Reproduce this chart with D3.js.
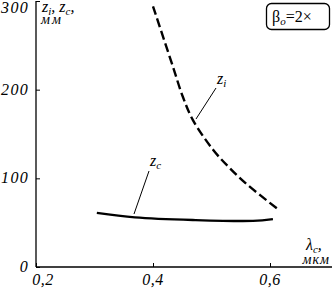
<!DOCTYPE html>
<html>
<head>
<meta charset="utf-8">
<script src="https://cdn.jsdelivr.net/npm/d3@7"></script>
<style>
  body { margin: 0; background: #fff; }
  text { font-family: "Liberation Serif", "DejaVu Serif", serif; fill: #000; }
</style>
</head>
<body>
<svg id="chart" width="332" height="291"></svg>
<script>
// values
const xTicks = [0.2, 0.4, 0.6]
const yTicks = [0, 100, 200, 300]
const xTickLabels = ['0,2', '0,4', '0,6']

const lambdaI = [0.400, 0.434, 0.451, 0.468, 0.503, 0.532, 0.561, 0.612]
const zI = [294, 226, 192, 166, 132, 111, 93, 66]

const lambdaC = [0.304, 0.369, 0.468, 0.571, 0.605]
const zC = [61, 56, 53, 52, 54]

const svg = d3.select('#chart')

const x = d3.scaleLinear().domain([0.2, 0.7]).range([36, 328.5])
const y = d3.scaleLinear().domain([0, 300]).range([267, 1])

// axes
const yAxis = svg.append('g').attr('transform', `translate(${x(0.2)},0)`)
  .call(d3.axisRight(y).tickValues(yTicks).tickSize(4).tickFormat(''))
yAxis.select('.domain').attr('d', `M0,${y(0)}V${y(300)}`).attr('stroke', '#000').attr('stroke-width', 1.3)

const xAxis = svg.append('g').attr('transform', `translate(0,${y(0)})`)
  .call(d3.axisTop(x).tickValues(xTicks).tickSize(4).tickFormat(''))
xAxis.select('.domain').attr('d', `M${x(0.2)},0H332`).attr('stroke', '#000').attr('stroke-width', 1.3)
svg.selectAll('.tick line').attr('stroke', '#000')

// tick labels
svg.append('g').selectAll('text').data(yTicks).join('text')
  .attr('x', 29)
  .attr('y', d => Math.max(y(d) + 5, 13))
  .attr('text-anchor', 'end')
  .attr('font-size', 16)
  .attr('font-style', 'italic')
  .attr('letter-spacing', 1.3)
  .text(d => d)

svg.append('g').selectAll('text').data(xTicks).join('text')
  .attr('x', (d, i) => i === 0 ? x(d) + 7 : x(d))
  .attr('y', 285)
  .attr('text-anchor', 'middle')
  .attr('font-size', 16)
  .attr('font-style', 'italic')
  .attr('letter-spacing', 0.5)
  .text((d, i) => xTickLabels[i])

// curves
const line = d3.line().curve(d3.curveCatmullRom.alpha(0.5))

svg.append('path')
  .datum(lambdaI.map((v, i) => [x(v), y(zI[i])]))
  .attr('d', line)
  .attr('fill', 'none')
  .attr('stroke', '#000')
  .attr('stroke-width', 2.4)
  .attr('stroke-dasharray', '9,4')

svg.append('path')
  .datum(lambdaC.map((v, i) => [x(v), y(zC[i])]))
  .attr('d', line)
  .attr('fill', 'none')
  .attr('stroke', '#000')
  .attr('stroke-width', 2.4)

// leader lines
svg.append('line').attr('x1', 196).attr('y1', 119).attr('x2', 216).attr('y2', 88)
  .attr('stroke', '#000').attr('stroke-width', 1)
svg.append('line').attr('x1', 134).attr('y1', 214).attr('x2', 149).attr('y2', 171)
  .attr('stroke', '#000').attr('stroke-width', 1)

// curve labels
const zi = svg.append('text').attr('x', 217).attr('y', 84).attr('font-size', 16).attr('font-style', 'italic')
zi.append('tspan').text('z')
zi.append('tspan').attr('font-size', 11).attr('dy', 3).text('i')

const zc = svg.append('text').attr('x', 150).attr('y', 166).attr('font-size', 16).attr('font-style', 'italic')
zc.append('tspan').text('z')
zc.append('tspan').attr('font-size', 11).attr('dy', 3).text('c')

// axis titles
const yt = svg.append('text').attr('x', 42).attr('y', 12).attr('font-size', 16).attr('font-style', 'italic')
yt.append('tspan').text('z')
yt.append('tspan').attr('font-size', 11).attr('dy', 3).text('i')
yt.append('tspan').attr('dy', -3).text(', z')
yt.append('tspan').attr('font-size', 11).attr('dy', 3).text('c')
yt.append('tspan').attr('dy', -3).text(',')
svg.append('text').attr('x', 41).attr('y', 24).attr('font-size', 14).attr('font-style', 'italic')
  .attr('letter-spacing', 2).text('мм')

const xt = svg.append('text').attr('x', 306).attr('y', 250).attr('font-size', 16).attr('font-style', 'italic')
xt.append('tspan').text('λ')
xt.append('tspan').attr('font-size', 11).attr('dy', 3).text('c')
xt.append('tspan').attr('dy', -3).text(',')
svg.append('text').attr('x', 330).attr('y', 264).attr('text-anchor', 'end').attr('font-size', 14).attr('font-style', 'italic')
  .attr('letter-spacing', 1).text('мкм')

// beta box
svg.append('rect').attr('x', 266.5).attr('y', 3.5).attr('width', 63).attr('height', 26).attr('rx', 5)
  .attr('fill', 'none').attr('stroke', '#000').attr('stroke-width', 1.3)
const bt = svg.append('text').attr('x', 272).attr('y', 22).attr('font-size', 16)
bt.append('tspan').text('β')
bt.append('tspan').attr('font-size', 11).attr('font-style', 'italic').attr('dy', 3).text('o')
bt.append('tspan').attr('dy', -3).text('=2×')
</script>
</body>
</html>
